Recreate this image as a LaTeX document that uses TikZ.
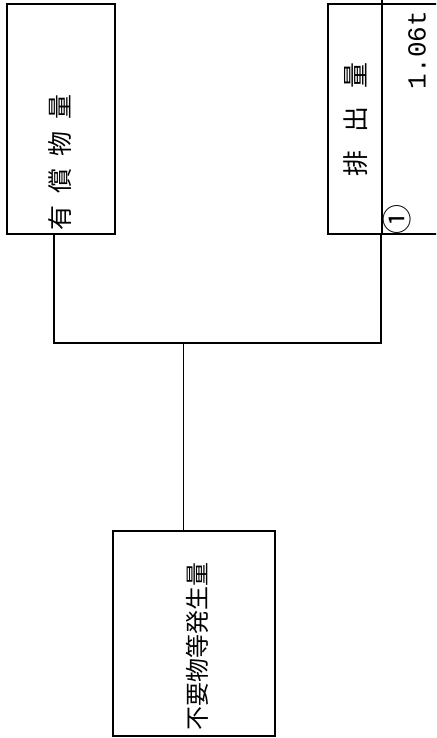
\documentclass[tikz,border=0pt]{standalone}
\usepackage{fontspec}
\newfontfamily\jp{Noto Sans CJK JP}
\newfontfamily\monof{Liberation Mono}
\usetikzlibrary{calc}
\begin{document}
\begin{tikzpicture}[x=1pt,y=-1pt,
  box/.style={draw,line width=1.6pt,inner sep=0pt},
  conn/.style={draw,line width=1.3pt},
  lbl/.style={inner sep=0pt,rotate=90,anchor=center}]
\useasboundingbox (0,0) rectangle (436,738);
\clip (0,0) rectangle (436,738);
% boxes
\node[box,minimum width=108pt,minimum height=230pt] (L) at (61,119) {};
\node[box,minimum width=120pt,minimum height=230pt] (R) at (388,119) {};
\node[box,minimum width=162pt,minimum height=205pt] (B) at (194,633.5) {};
% labels
\node[lbl,font=\jp\fontsize{25}{25}\selectfont] (lt) at (60,162) {有\hspace{12pt}償\hspace{12pt}物\hspace{12pt}量};
\node[lbl,font=\jp\fontsize{26}{26}\selectfont] (rt) at (356,119) {排\hspace{18pt}出\hspace{18pt}量};
\node[lbl,font=\monof\fontsize{26}{26}\selectfont] (val) at (417,50) {1.06t};
\node[lbl,font=\jp\fontsize{30}{30}\selectfont] (num) at (397.5,219) {①};
\node[lbl,font=\jp\fontsize{24}{24}\selectfont] (bt) at (197,646) {不要物等発生量};
% connectors
\coordinate (lj) at (54,343);
\coordinate (rj) at (381,343);
\coordinate (cj) at (183,343);
\coordinate (rtop) at (382,0);
\draw[conn] (L.south -| lj) -- (lj) -- (rj) -- (rj |- R.south);
\draw[conn] (rtop) -- (rtop |- R.south);
\draw[line width=1pt] (cj) -- (cj |- B.north);
\end{tikzpicture}
\end{document}
